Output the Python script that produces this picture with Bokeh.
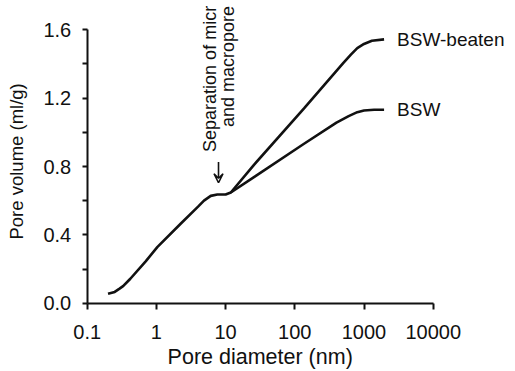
import math
from bokeh.plotting import figure
from bokeh.models import FixedTicker, PrintfTickFormatter, Label, Arrow, VeeHead
from bokeh.embed import file_html
from bokeh.resources import INLINE

# ---- data ----
# shared micropore branch (both samples overlap)
x_common = [0.2, 0.25, 0.29, 0.33, 0.42, 0.7, 1.03, 2.24, 4.0, 4.87, 6.1, 7.6, 10.0, 11.9]
y_common = [0.055, 0.066, 0.084, 0.10, 0.143, 0.245, 0.328, 0.465, 0.565, 0.60, 0.628, 0.636, 0.636, 0.648]

x_beaten = [11.9, 25.7, 136.0, 500.0, 646.0, 800.0, 1000.0, 1300.0, 1950.0]
y_beaten = [0.648, 0.81, 1.14, 1.405, 1.455, 1.493, 1.517, 1.536, 1.544]

x_bsw = [11.9, 25.7, 136.0, 400.0, 600.0, 800.0, 1000.0, 1400.0, 1950.0]
y_bsw = [0.648, 0.738, 0.933, 1.057, 1.095, 1.118, 1.128, 1.132, 1.132]

series_names = ["BSW-beaten", "BSW"]

x_ticks = [0.1, 1, 10, 100, 1000, 10000]
x_tick_labels = ["0.1", "1", "10", "100", "1000", "10000"]
y_ticks = [0.0, 0.4, 0.8, 1.2, 1.6]
y_minor_ticks = [0.2, 0.6, 1.0, 1.4]
x_title = "Pore diameter (nm)"
y_title = "Pore volume (ml/g)"

arrow_x = 7.9
arrow_y = [0.826, 0.705]
note_lines = ["Separation of micr", "and macropore"]
note_top_y = 1.74

FONT = "Liberation Sans"
INK = "#111111"

# ---- layout (pixels) ----
W, H = 514, 370
AX_LEFT, AX_BOTTOM = 86.7, 302.7        # canvas position of the axes origin
PX_PER_DEC = 346.0 / 5                    # log-x scale
PX_PER_UNIT = 273.4 / 1.6                 # y scale
x_lo = 10 ** (math.log10(x_ticks[0]) - AX_LEFT / PX_PER_DEC)
x_hi = 10 ** (math.log10(x_ticks[0]) + (W - AX_LEFT) / PX_PER_DEC)
y_lo = y_ticks[0] - (H - AX_BOTTOM) / PX_PER_UNIT
y_hi = y_ticks[0] + AX_BOTTOM / PX_PER_UNIT

p = figure(width=W, height=H, x_axis_type="log",
           x_range=(x_lo, x_hi), y_range=(y_lo, y_hi),
           output_backend="svg", toolbar_location=None,
           min_border=0)
p.outline_line_color = None
p.grid.visible = False
p.background_fill_color = "white"
p.border_fill_color = "white"

lw = 2.6
p.line(x_common + x_beaten[1:], y_common + y_beaten[1:], line_color=INK, line_width=lw)
p.line(x_bsw, y_bsw, line_color=INK, line_width=lw)

for name, xs, ys in [(series_names[0], x_beaten, y_beaten), (series_names[1], x_bsw, y_bsw)]:
    p.add_layout(Label(x=xs[-1], y=ys[-1], text=name, x_offset=13, text_baseline="middle",
                       text_font=FONT, text_font_size="19px", text_color=INK))

p.add_layout(Arrow(x_start=arrow_x, y_start=arrow_y[0], x_end=arrow_x, y_end=arrow_y[1],
                   line_color=INK, line_width=1.6,
                   end=VeeHead(size=9, line_color=INK, line_width=1.6, fill_color=None)))

for i, t in enumerate(note_lines):
    p.add_layout(Label(x=arrow_x, y=note_top_y, text=t, angle=math.pi / 2,
                       text_align="right", text_baseline="alphabetic",
                       x_offset=-9 + 18 * i, text_font=FONT, text_font_size="18px", text_color=INK))

# axis titles
p.add_layout(Label(x=10 ** ((math.log10(x_ticks[0]) + math.log10(x_ticks[-1])) / 2), y=y_ticks[0],
                   y_offset=-54, text=x_title, text_align="center", text_baseline="alphabetic",
                   text_font=FONT, text_font_size="21.5px", text_color=INK))
p.add_layout(Label(x=x_ticks[0], y=0.83, x_offset=-71, text=y_title, angle=math.pi / 2,
                   text_align="center", text_baseline="alphabetic",
                   text_font=FONT, text_font_size="18.5px", text_color=INK))

# axes
xa = p.xaxis[0]
xa.ticker = FixedTicker(ticks=x_ticks, minor_ticks=[])
xa.major_label_overrides = {t: l for t, l in zip(x_ticks, x_tick_labels)}
xa.fixed_location = y_ticks[0]
xa.bounds = (x_ticks[0], x_ticks[-1])

ya = p.yaxis[0]
ya.ticker = FixedTicker(ticks=y_ticks, minor_ticks=y_minor_ticks)
ya.formatter = PrintfTickFormatter(format="%.1f")
ya.fixed_location = x_ticks[0]
ya.bounds = (y_ticks[0], y_ticks[-1])

for ax in (xa, ya):
    ax.axis_line_color = INK
    ax.axis_line_width = 2
    ax.major_tick_line_color = INK
    ax.major_tick_line_width = 2
    ax.minor_tick_line_color = INK
    ax.minor_tick_line_width = 2
    ax.major_tick_in = 0
    ax.minor_tick_in = 0
    ax.major_label_text_font = FONT
    ax.major_label_text_color = INK
    ax.major_label_text_font_size = "20px"

xa.major_tick_out = 6
xa.major_label_standoff = 16

ya.major_tick_out = 5
ya.minor_tick_out = 5
ya.major_label_standoff = 11

open("out.html", "w").write(file_html(p, INLINE))
